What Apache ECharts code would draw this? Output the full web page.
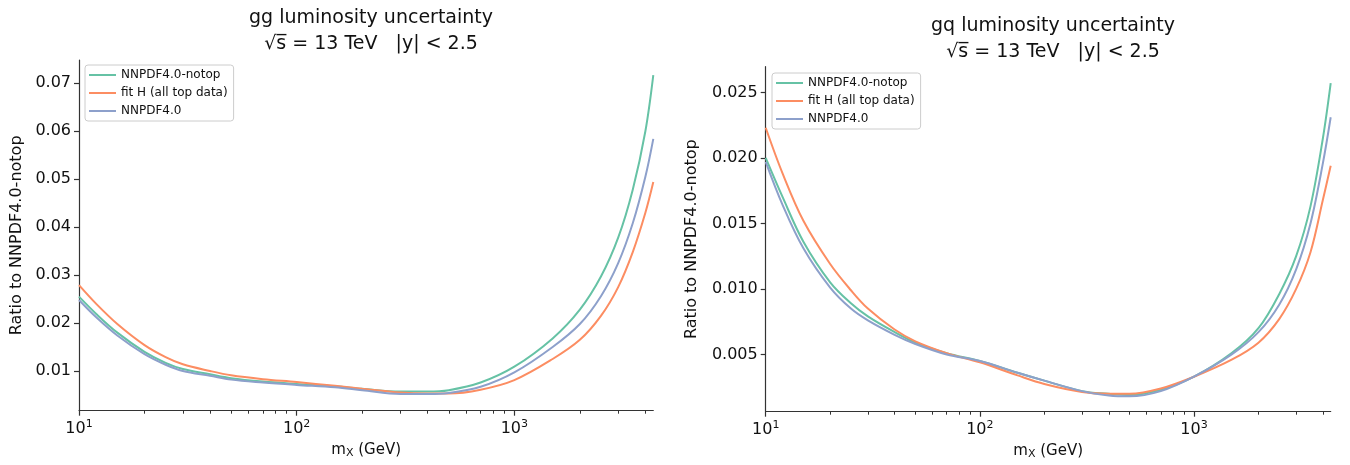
<!DOCTYPE html>
<html>
<head>
<meta charset="utf-8">
<script src="https://cdn.jsdelivr.net/npm/echarts@6/dist/echarts.min.js"></script>
<style>
  html, body { margin: 0; padding: 0; background: #fff; }
  #chart { width: 1350px; height: 465px; }
</style>
</head>
<body>
<div id="chart"></div>
<script>
// Invariant mass grid (GeV)
const massGeV = [10, 12, 15, 20, 25, 30, 40, 50, 70, 100, 150, 200, 300, 400, 500, 700, 1000, 1500, 2000, 2500, 3000, 3500, 4000, 4350];

// gg luminosity relative uncertainty
const ggNotop    = [0.0255, 0.0219, 0.0180, 0.0140, 0.0117, 0.0104, 0.0093, 0.0085, 0.0078, 0.0073, 0.0068, 0.0063, 0.0057, 0.0057, 0.0060, 0.0076, 0.0109, 0.0168, 0.0228, 0.0297, 0.0378, 0.0478, 0.0600, 0.0717];
const ggFitH     = [0.0279, 0.0240, 0.0198, 0.0154, 0.0129, 0.0114, 0.0100, 0.0091, 0.0083, 0.0077, 0.0069, 0.0063, 0.0055, 0.0053, 0.0053, 0.0061, 0.0081, 0.0125, 0.0165, 0.0215, 0.0275, 0.0348, 0.0430, 0.0494];
const ggNNPDF40  = [0.0248, 0.0212, 0.0174, 0.0135, 0.0113, 0.0100, 0.0090, 0.0082, 0.0076, 0.0071, 0.0066, 0.0060, 0.0052, 0.0052, 0.0054, 0.0067, 0.0097, 0.0150, 0.0198, 0.0256, 0.0325, 0.0408, 0.0505, 0.0584];

// gq luminosity relative uncertainty
const gqNotop    = [0.0200, 0.0170, 0.0136, 0.0105, 0.0089, 0.0079, 0.0067, 0.0059, 0.0051, 0.0045, 0.0036, 0.0030, 0.0022, 0.0020, 0.0019, 0.0023, 0.0033, 0.0051, 0.0070, 0.0096, 0.0125, 0.0163, 0.0215, 0.0257];
const gqFitH     = [0.0223, 0.0188, 0.0152, 0.0119, 0.0099, 0.0085, 0.0069, 0.0060, 0.0051, 0.0044, 0.0034, 0.00275, 0.00214, 0.0020, 0.0020, 0.0024, 0.0033, 0.0046, 0.0059, 0.0077, 0.0100, 0.0128, 0.0168, 0.0194];
const gqNNPDF40  = [0.0197, 0.0164, 0.0131, 0.0101, 0.0085, 0.0076, 0.0065, 0.0058, 0.0050, 0.0045, 0.0036, 0.0030, 0.0022, 0.00187, 0.0018, 0.0022, 0.0033, 0.0050, 0.0067, 0.0088, 0.0115, 0.0150, 0.0196, 0.0231];

// Axis ticks
const xMajorTicks = [10, 100, 1000];
const xMinorTicks = [20, 30, 40, 50, 60, 70, 80, 90, 200, 300, 400, 500, 600, 700, 800, 900, 2000, 3000, 4000];
const ggYTicks = [0.01, 0.02, 0.03, 0.04, 0.05, 0.06, 0.07];
const gqYTicks = [0.005, 0.010, 0.015, 0.020, 0.025];

const seriesNames = ['NNPDF4.0-notop', 'fit H (all top data)', 'NNPDF4.0'];
const colors = ['#66c2a5', '#fc8d62', '#8da0cb'];

const FONT = 'DejaVu Sans';
const AXIS_COLOR = '#333';

function pairs(ys) {
  return massGeV.map((m, i) => [m, ys[i]]);
}

function majorX(gridIndex) {
  return {
    type: 'log', logBase: 10, gridIndex, min: 10, max: 4350,
    axisLine: { show: true, lineStyle: { color: AXIS_COLOR, width: 1.2 } },
    axisTick: { show: true, customValues: xMajorTicks, length: 5, lineStyle: { color: AXIS_COLOR, width: 1.2 } },
    axisLabel: {
      customValues: xMajorTicks, margin: 8, color: '#111',
      formatter: v => '{b|10}{s|' + Math.round(Math.log10(v)) + '}',
      rich: {
        b: { fontFamily: FONT, fontSize: 16, color: '#111', verticalAlign: 'bottom', lineHeight: 18 },
        s: { fontFamily: FONT, fontSize: 11, color: '#111', verticalAlign: 'top', lineHeight: 18, padding: [0, 0, 7, 0] }
      }
    },
    splitLine: { show: false },
    name: '{n|m}{x|X}{n| (GeV)}',
    nameLocation: 'middle', nameGap: 27,
    nameTextStyle: {
      rich: {
        n: { fontFamily: FONT, fontSize: 15, color: '#111', lineHeight: 18 },
        x: { fontFamily: FONT, fontSize: 11, color: '#111', lineHeight: 18, padding: [6, 0, 0, 0] }
      }
    }
  };
}

function minorX(gridIndex) {
  return {
    type: 'log', logBase: 10, gridIndex, min: 10, max: 4350, position: 'bottom',
    axisLine: { show: false },
    axisTick: { show: true, customValues: xMinorTicks, length: 3, lineStyle: { color: AXIS_COLOR, width: 1 } },
    axisLabel: { show: false },
    splitLine: { show: false }
  };
}

function yAxis(gridIndex, min, max, ticks, digits, gap) {
  return {
    type: 'value', gridIndex, min, max,
    axisLine: { show: true, lineStyle: { color: AXIS_COLOR, width: 1.2 } },
    axisTick: { show: true, customValues: ticks, length: 5, lineStyle: { color: AXIS_COLOR, width: 1.2 } },
    axisLabel: {
      customValues: ticks, margin: 8, color: '#111', fontFamily: FONT, fontSize: 16,
      formatter: v => v.toFixed(digits)
    },
    splitLine: { show: false },
    name: 'Ratio to NNPDF4.0-notop',
    nameLocation: 'middle', nameGap: gap, nameRotate: 90,
    nameTextStyle: { fontFamily: FONT, fontSize: 16, color: '#111' }
  };
}

function legend(left, top) {
  return {
    data: seriesNames, orient: 'vertical', left, top,
    icon: 'rect', itemWidth: 27, itemHeight: 2, itemGap: 6,
    padding: [4, 6, 4, 4],
    borderColor: '#ccc', borderWidth: 1, borderRadius: 3,
    backgroundColor: 'rgba(255,255,255,0.8)',
    textStyle: { fontFamily: FONT, fontSize: 12, color: '#111' }
  };
}

function lines(data, xAxisIndex, yAxisIndex) {
  return data.map((ys, k) => ({
    name: seriesNames[k], type: 'line', xAxisIndex, yAxisIndex,
    data: pairs(ys), showSymbol: false, symbol: 'none', smooth: 0.35,
    lineStyle: { color: colors[k], width: 2 }, itemStyle: { color: colors[k] },
    z: 3 + k, animation: false
  }));
}

const titleStyle = { fontFamily: FONT, fontSize: 19, fontWeight: 'normal', color: '#111' };

const option = {
  animation: false,
  color: colors,
  title: [
    { text: 'gg luminosity uncertainty', subtext: '\u221As\u0305 = 13 TeV   |y| < 2.5', left: 366, top: 4, textAlign: 'center',
      textStyle: titleStyle, subtextStyle: titleStyle, itemGap: 7 },
    { text: 'gq luminosity uncertainty', subtext: '\u221As\u0305 = 13 TeV   |y| < 2.5', left: 1048, top: 12, textAlign: 'center',
      textStyle: titleStyle, subtextStyle: titleStyle, itemGap: 7 }
  ],
  legend: [legend(85, 65), legend(772, 73)],
  grid: [
    { left: 79, top: 60, width: 574.3, height: 350.7, containLabel: false },
    { left: 765.7, top: 66.7, width: 565, height: 345, containLabel: false }
  ],
  xAxis: [majorX(0), minorX(0), majorX(1), minorX(1)],
  yAxis: [
    yAxis(0, 0.00172, 0.07486, ggYTicks, 2, 54),
    yAxis(1, 0.00063, 0.02696, gqYTicks, 3, 66)
  ],
  series: [
    ...lines([ggNotop, ggFitH, ggNNPDF40], 0, 0),
    ...lines([gqNotop, gqFitH, gqNNPDF40], 2, 1)
  ]
};

const chart = echarts.init(document.getElementById('chart'), null, { renderer: 'canvas' });
chart.setOption(option);
</script>
</body>
</html>
